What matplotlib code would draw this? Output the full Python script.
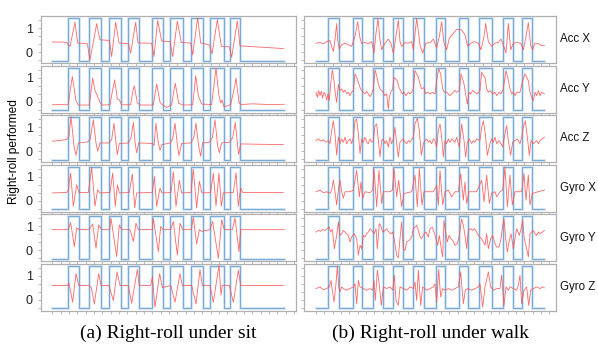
import numpy as np
import matplotlib.pyplot as plt

plt.rcParams['font.family'] = ['Liberation Sans', 'DejaVu Sans']

# ground truth square wave (sample index), same in every row of a column
LOW, HIGH = -0.35, 1.4
sit_rise = [48, 109, 171, 228, 300, 354, 416, 472, 532]
sit_fall = [80, 147, 205, 260, 331, 392, 453, 515, 562]
sit_end = 694
walk_rise = [37, 112, 172, 230, 292, 359, 430, 490, 562, 619]
walk_fall = [70, 139, 202, 262, 325, 387, 455, 527, 590, 649]
walk_end = 685

row_names = ['Acc X', 'Acc Y', 'Acc Z', 'Gyro X', 'Gyro Y', 'Gyro Z']

# sensor traces: (sample, value)
sit_acc_x = [(0, .42), (28, .42), (43, .40), (53, .24), (68, 1.24), (76, .38), (105, .35), (113, -.32),
             (133, 1.18), (143, .51), (171, .49), (178, -.18), (190, 1.24), (200, .38), (228, .35),
             (235, -.04), (250, 1.24), (257, .38), (298, .37), (305, -.18), (316, 1.32), (328, .46),
             (353, .44), (361, -.18), (375, 1.28), (387, .40), (415, .38), (421, -.11), (436, 1.42),
             (445, .38), (471, .30), (479, -.07), (495, 1.35), (507, .24), (531, .22), (538, -.21),
             (555, 1.30), (563, .26), (693, .15)]
sit_acc_y = [(0, -.13), (23, -.12), (43, -.13), (48, -.10), (55, .6), (60, 1.04), (65, .6), (71, .04),
             (78, -.14), (111, -.14), (115, .3), (121, .98), (128, .46), (135, .25), (143, -.03),
             (149, -.14), (173, -.13), (181, .5), (187, .9), (195, .11), (201, .07), (208, -.13),
             (235, -.13), (241, .4), (246, .66), (255, -.05), (263, -.14), (303, -.14), (308, .3),
             (313, .73), (323, -.02), (330, -.13), (343, -.24), (358, -.13), (364, .4), (369, .76),
             (379, -.07), (393, -.14), (421, -.13), (426, .5), (430, 1.08), (438, .25), (448, -.1),
             (478, -.12), (485, .7), (491, 1.4), (499, .32), (505, -.05), (509, .07), (515, -.22),
             (535, -.12), (545, .5), (551, .98), (560, -.04), (566, -.12), (600, -.09), (650, -.12),
             (696, -.11)]
sit_acc_z = [(0, .41), (43, .48), (50, .62), (56, 1.44), (65, .21), (71, -.18), (78, .34), (105, .38),
             (113, .48), (123, 1.30), (131, .34), (136, .0), (143, .34), (170, .34), (178, .48),
             (185, 1.16), (191, .34), (195, -.14), (201, .32), (228, .34), (236, .55), (243, 1.19),
             (249, .27), (253, -.07), (259, .34), (300, .32), (305, .23), (311, 1.16), (318, .34),
             (323, .04), (329, .27), (354, .34), (361, .51), (368, 1.16), (375, .27), (380, -.18),
             (388, .32), (416, .34), (424, .55), (431, 1.16), (439, .21), (445, -.21), (451, .34),
             (471, .37), (480, .55), (488, 1.30), (496, .21), (501, -.07), (508, .34), (531, .37),
             (541, .55), (549, 1.19), (556, .21), (559, -.14), (565, .30), (693, .27)]
sit_gyro_x = [(0, .32), (43, .34), (48, .45), (55, 1.14), (63, -.23), (73, .66), (80, .34), (108, .34),
              (118, 1.38), (128, -.23), (136, .45), (143, .32), (173, .34), (181, 1.14), (189, -.23),
              (195, .66), (201, .32), (231, .34), (240, 1.11), (247, -.30), (253, .32), (300, .34),
              (306, 1.0), (313, -.23), (323, .52), (329, .32), (356, .34), (363, 1.2), (371, -.23),
              (381, .84), (388, .32), (416, .34), (423, 1.30), (433, -.30), (441, .80), (449, .32),
              (475, .34), (483, 1.14), (491, -.21), (500, 1.14), (507, -.23), (513, .32), (543, .34),
              (551, 1.16), (558, -.23), (565, .52), (571, .34), (693, .34)]
sit_gyro_y = [(0, .85), (40, .85), (48, .87), (55, 1.14), (66, .15), (73, .92), (81, .85), (110, .85),
              (121, 1.08), (131, .08), (139, 1.05), (148, .85), (172, .85), (176, 1.33), (193, -.27),
              (201, 1.05), (208, .85), (233, .85), (243, .36), (251, 1.12), (258, .85), (300, .85),
              (303, 1.31), (318, -.06), (325, .98), (333, .85), (355, .85), (363, 1.19), (375, -.20),
              (383, 1.12), (391, .85), (417, .85), (423, 1.36), (433, .25), (441, .85), (448, .78),
              (473, .85), (481, 1.19), (498, -.34), (508, 1.26), (516, .85), (540, .85), (548, 1.33),
              (560, -.06), (565, .85), (696, .85)]
sit_gyro_z = [(0, .59), (45, .59), (50, .68), (61, -.11), (71, 1.08), (79, .59), (110, .59), (117, .50),
              (126, -.18), (139, 1.08), (146, .59), (170, .59), (183, -.04), (194, 1.15), (203, .59),
              (228, .59), (238, -.15), (255, 1.25), (261, .59), (295, .59), (300, .94), (308, -.32),
              (322, 1.08), (330, .50), (355, .59), (368, -.11), (383, 1.08), (390, .59), (418, .59),
              (431, -.18), (443, 1.25), (450, .59), (473, .59), (483, -.11), (500, 1.43), (506, .20),
              (510, .59), (531, .59), (543, -.11), (558, 1.22), (565, .59), (693, .59)]

walk_acc_x = [(0, .37), (12, .40), (22, .35), (32, .44), (42, .48), (47, .24), (52, .03), (57, .51),
              (62, 1.19), (65, .51), (70, .13), (77, .31), (87, .37), (97, .31), (107, .24), (117, .65),
              (125, 1.26), (132, .58), (137, .37), (147, .40), (157, .35), (167, .44), (174, -.04),
              (180, .78), (186, 1.40), (192, .51), (197, .10), (207, .37), (217, .54), (224, .40),
              (232, -.04), (242, .85), (247, 1.33), (252, .44), (257, .24), (267, .40), (277, .37),
              (287, .44), (292, .10), (302, 1.40), (312, .31), (320, -.04), (330, .37), (342, .40),
              (352, .54), (362, .17), (370, .65), (377, 1.26), (384, .37), (392, .10), (400, .58),
              (412, .78), (422, .95), (437, .92), (447, .72), (455, .24), (464, .37), (474, .44),
              (487, .37), (495, .10), (504, .65), (509, 1.19), (517, .44), (527, .24), (537, .37),
              (547, .40), (555, .54), (562, .31), (570, -.04), (577, 1.19), (584, .10), (592, .37),
              (604, .40), (614, .37), (622, .10), (630, .65), (637, 1.22), (644, .27), (650, .10),
              (657, .37), (667, .35), (677, .27), (685, .27)]
walk_acc_y = [(0, .39), (4, .18), (8, .46), (12, .25), (16, .43), (20, .15), (24, .39), (28, .32),
              (32, .07), (36, .32), (40, .04), (44, .73), (49, 1.32), (54, .87), (58, .32), (62, -.03),
              (67, .71), (72, .46), (77, .53), (82, .39), (87, .48), (92, .32), (97, .39), (102, .25),
              (107, .39), (112, .46), (117, 1.15), (122, 1.01), (127, .80), (132, .59), (137, .46),
              (142, .39), (147, .32), (152, .43), (157, .32), (162, .21), (167, .32), (172, .53),
              (177, 1.32), (182, 1.08), (187, .73), (192, .53), (197, .46), (202, .39), (207, .25),
              (212, .32), (217, -.31), (220, .18), (224, .39), (230, .53), (234, 1.01), (239, .94),
              (244, .87), (249, .59), (254, .46), (259, .32), (264, .39), (270, .25), (277, .39),
              (282, .32), (287, .39), (292, .53), (297, 1.29), (302, 1.15), (307, 1.01), (312, .73),
              (317, .53), (324, .59), (329, .32), (334, .39), (342, .32), (349, .39), (357, .32),
              (362, .87), (368, 1.36), (374, 1.15), (380, .53), (385, .39), (392, .39), (397, .32),
              (402, .25), (407, .32), (412, .39), (417, .46), (422, .39), (430, .46), (435, 1.15),
              (440, .94), (444, .73), (449, .32), (454, -.10), (459, .39), (464, .32), (470, .46),
              (477, .39), (484, .32), (492, .46), (497, 1.22), (502, 1.08), (507, 1.01), (512, .53),
              (517, .39), (522, .46), (530, .32), (537, .39), (542, .25), (549, .39), (555, .32),
              (562, .53), (570, 1.29), (575, 1.01), (582, .53), (587, .32), (592, .39), (597, .25),
              (602, .39), (612, .39), (620, .87), (627, 1.15), (632, 1.01), (637, .87), (642, .39),
              (647, .18), (652, .04), (657, .39), (662, .25), (667, .46), (672, .25), (677, .39),
              (685, .32)]
walk_acc_z = [(0, .44), (7, .51), (14, .42), (22, .47), (30, .37), (37, .44), (42, .31), (47, .85),
              (52, 1.26), (57, .72), (62, -.17), (67, .58), (72, .31), (77, .51), (82, .37), (87, .58),
              (92, .31), (97, .44), (102, .51), (107, .31), (112, .58), (117, 1.26), (122, 1.33),
              (127, .72), (132, -.10), (137, .51), (142, .37), (147, .58), (152, .37), (157, .31),
              (162, .51), (167, .37), (172, .44), (177, 1.06), (182, 1.13), (187, .44), (192, -.24),
              (197, .44), (202, .51), (207, .31), (212, .44), (217, .17), (222, .58), (227, .31),
              (232, .51), (237, .99), (242, .31), (247, -.24), (252, .37), (257, .44), (262, .51),
              (267, .37), (272, .31), (277, .44), (282, .37), (292, .58), (297, 1.13), (304, 1.37),
              (310, .85), (316, -.17), (322, .31), (327, .44), (332, .51), (337, .37), (342, .44),
              (347, .31), (352, .51), (357, .44), (362, .17), (367, .85), (372, 1.13), (377, .58),
              (382, -.24), (387, .44), (392, .31), (397, .51), (402, .37), (407, .51), (412, .44),
              (417, .37), (422, .58), (430, .17), (437, 1.13), (444, .44), (449, -.24), (454, .37),
              (460, .51), (467, .31), (472, .44), (477, .37), (482, .51), (492, .44), (497, .99),
              (502, 1.26), (508, .72), (514, -.17), (522, .31), (527, .51), (532, .37), (537, .58),
              (542, .31), (549, .44), (555, .31), (560, .17), (567, .72), (572, 1.06), (577, .44),
              (584, -.17), (590, .37), (597, .44), (604, .51), (612, .31), (617, .58), (622, .99),
              (628, 1.26), (634, .58), (640, -.17), (645, .44), (652, .31), (657, .37), (662, .44),
              (667, .31), (672, .44), (679, .51), (685, .58)]
walk_gyro_x = [(0, .37), (12, .44), (22, .33), (32, .37), (42, .30), (47, .44), (52, .85), (57, .37),
               (62, -.18), (67, .44), (72, .85), (77, .37), (82, .09), (87, .37), (102, .37), (112, .44),
               (117, .85), (122, 1.26), (130, .16), (135, .78), (140, .09), (147, .37), (162, .33),
               (170, .44), (174, 1.33), (182, -.25), (189, 1.26), (197, -.12), (202, .37), (222, .37),
               (229, .44), (234, 1.33), (242, .16), (248, .85), (257, -.25), (264, .30), (287, .37),
               (297, 1.06), (304, -.25), (310, 1.33), (318, -.18), (324, .37), (352, .37), (362, .64),
               (367, -.18), (372, 1.26), (380, -.18), (387, .37), (397, .44), (407, .16), (417, .37),
               (427, .37), (434, 1.12), (442, .02), (447, .78), (452, -.12), (459, .37), (482, .37),
               (497, .85), (504, -.05), (512, 1.06), (520, -.12), (527, .30), (537, .37), (542, .16),
               (552, .37), (560, .44), (567, 1.40), (574, -.25), (582, 1.06), (589, -.18), (597, .37),
               (617, .37), (624, 1.12), (630, .02), (637, 1.06), (642, -.18), (649, .30), (667, .37),
               (685, .44)]
walk_gyro_y = [(0, .75), (7, .82), (14, .78), (20, .86), (27, .82), (34, .89), (40, .96), (44, .75),
               (49, .86), (55, .06), (62, .61), (67, 1.17), (72, .61), (77, .68), (82, .82), (87, .75),
               (92, .68), (97, .61), (102, .34), (107, .55), (114, .68), (122, .48), (127, -.21),
               (132, .20), (137, .06), (142, .61), (147, .55), (152, .68), (157, .75), (162, .89),
               (167, .82), (174, .68), (180, .89), (184, .06), (190, 1.10), (194, 1.03), (200, .75),
               (207, .82), (212, .89), (217, .78), (224, .68), (230, .75), (236, .34), (242, -.21),
               (247, -.32), (252, .48), (257, 1.17), (262, .06), (267, -.01), (272, .34), (280, .41),
               (287, .55), (292, .89), (297, .96), (302, 1.03), (307, .82), (312, .55), (317, .48),
               (324, .68), (330, .75), (337, .55), (342, .89), (349, .96), (354, .75), (360, .48),
               (365, .20), (370, .61), (377, -.07), (380, -.28), (384, 1.23), (389, .75), (394, .34),
               (399, .61), (404, .48), (410, .41), (417, .20), (424, .27), (430, .61), (437, 1.30),
               (442, 1.03), (447, .61), (452, .06), (457, .82), (464, .89), (470, .82), (475, .89),
               (482, .75), (490, .55), (497, .48), (502, .34), (507, .20), (512, .68), (517, .06),
               (524, .48), (530, .61), (537, .27), (542, .13), (549, .13), (555, .48), (560, 1.03),
               (564, 1.30), (569, .48), (574, -.07), (579, .34), (585, .68), (592, .06), (597, .48),
               (602, .89), (610, .61), (615, .89), (620, 1.23), (625, .48), (632, .06), (637, -.28),
               (642, .68), (647, .75), (652, .82), (657, .68), (662, .61), (667, .75), (672, .68),
               (679, .75), (685, .82)]
walk_gyro_z = [(0, .46), (12, .53), (22, .41), (32, .46), (40, .53), (45, .80), (49, .39), (54, -.10),
               (60, .66), (64, 1.39), (68, .53), (72, .32), (77, .53), (82, .46), (92, .39), (102, .46),
               (112, .53), (117, .66), (122, -.17), (127, .80), (132, .53), (142, .46), (152, .39),
               (162, .46), (170, .39), (174, .80), (178, -.03), (184, 1.22), (190, .59), (196, -.24),
               (202, .53), (212, .46), (222, .53), (230, .39), (235, 1.01), (240, -.03), (247, -.24),
               (252, .53), (262, .46), (272, .39), (282, .53), (292, .46), (297, .73), (302, -.03),
               (307, 1.22), (314, -.24), (320, .53), (327, .46), (332, .39), (342, .46), (352, .53),
               (357, .66), (362, -.10), (368, 1.25), (374, .11), (380, .46), (387, .39), (397, .46),
               (407, .39), (417, .46), (427, .53), (434, 1.15), (442, -.17), (448, .39), (455, .46),
               (467, .39), (477, .46), (487, .53), (492, .66), (500, -.31), (507, .53), (517, 1.15),
               (524, .53), (532, .39), (542, .46), (552, .46), (557, 1.01), (564, -.24), (570, .53),
               (577, .39), (582, .53), (592, .46), (602, .39), (607, .59), (612, 1.01), (617, -.17),
               (624, .39), (632, .53), (638, -.24), (644, .39), (652, .46), (662, .53), (672, .46),
               (679, .53), (685, .49)]

sit_traces = [sit_acc_x, sit_acc_y, sit_acc_z, sit_gyro_x, sit_gyro_y, sit_gyro_z]
walk_traces = [walk_acc_x, walk_acc_y, walk_acc_z, walk_gyro_x, walk_gyro_y, walk_gyro_z]


def square(rise, fall, end):
    xs, ys = [0], [LOW]
    for r, f in zip(rise, fall):
        xs += [r, r, f, f]
        ys += [LOW, HIGH, HIGH, LOW]
    xs.append(end)
    ys.append(LOW)
    return xs, ys


W, H = 598, 355
fig = plt.figure(figsize=(W / 100, H / 100), dpi=100)

col_px = [(41, 296, -34, 731, sit_rise, sit_fall, sit_end, sit_traces),
          (304, 556, -36, 720, walk_rise, walk_fall, walk_end, walk_traces)]
top0, pitch, height = 16, 49.5, 47

for c, (x0, x1, xl0, xl1, rise, fall, end, traces) in enumerate(col_px):
    sq_x, sq_y = square(rise, fall, end)
    for r in range(6):
        top = top0 + r * pitch
        ax = fig.add_axes([x0 / W, 1 - (top + height) / H, (x1 - x0) / W, height / H])
        ax.plot(sq_x, sq_y, color='#d9e8f5', lw=2.0, solid_joinstyle='miter')
        ax.plot(sq_x, sq_y, color='#7aaad6', lw=0.8, solid_joinstyle='miter')
        t, v = np.array(traces[r]).T
        ax.plot(t, v, color='#ff4d4d', lw=0.6, alpha=0.85)
        ax.set_xlim(xl0, xl1)
        ax.set_ylim(-0.45, 1.5)
        for s in ax.spines.values():
            s.set_color('#b0b0b0')
            s.set_linewidth(0.9)
        ax.set_xticks(np.arange(0, xl1, 25))
        ax.set_xticklabels([])
        ax.set_yticks([0, 1])
        ax.set_yticks([-0.33, 0.33, 0.67, 1.33], minor=True)
        ax.tick_params(which='both', color='#b0b0b0', length=2, width=0.6,
                       labelsize=9, pad=4, labelcolor='#222222')
        if c == 1:
            ax.set_yticklabels([])
            fig.text(560 / W, 1 - (top + height / 2) / H, row_names[r],
                     fontsize=8.3, va='center', ha='left', color='#111111')

fig.text(14 / W, 1 - 152 / H, 'Right-roll performed', rotation=90,
         fontsize=8.6, va='center', ha='center')
fig.text(168 / W, 1 - 333 / H, '(a) Right-roll under sit', family='Liberation Serif',
         fontsize=14, ha='center', va='center')
fig.text(430 / W, 1 - 333 / H, '(b) Right-roll under walk', family='Liberation Serif',
         fontsize=14, ha='center', va='center')

fig.savefig('out.png', dpi=100)
